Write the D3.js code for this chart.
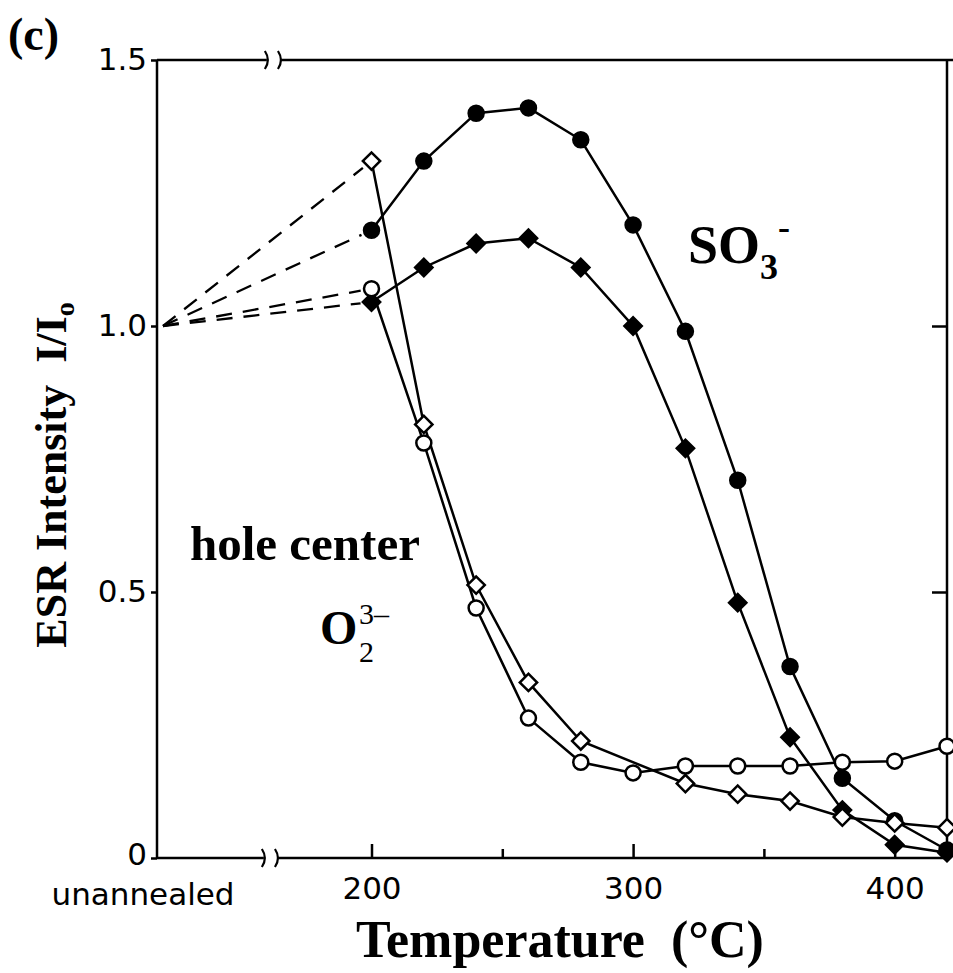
<!DOCTYPE html>
<html>
<head>
<meta charset="utf-8">
<script src="https://cdn.jsdelivr.net/npm/d3@7/dist/d3.min.js"></script>
<style>
  body { margin: 0; background: #fff; }
</style>
</head>
<body>
<svg class="chart"></svg>
<script>
// annealing temperatures (°C), "unannealed" sits at the left edge
const temps = [200, 220, 240, 260, 280, 300, 320, 340, 360, 380, 400, 420];
const so3Upper = [1.18, 1.31, 1.40, 1.41, 1.35, 1.19, 0.99, 0.71, 0.36, 0.15, 0.07, 0.015];
const so3Lower = [1.045, 1.11, 1.155, 1.165, 1.11, 1.0, 0.77, 0.48, 0.227, 0.09, 0.025, 0.01];
const holeCircle = [1.07, 0.78, 0.47, 0.263, 0.18, 0.16, 0.173, 0.173, 0.173, 0.18, 0.182, 0.21];
const holeDiamond = [1.31, 0.815, 0.513, 0.33, 0.22, null, 0.14, 0.12, 0.107, 0.077, 0.066, 0.057];
const unannealedValue = 1.0;
const yTicks = [0, 0.5, 1.0, 1.5];
const yRightTicks = [0.5, 1.0];
const xTicks = [200, 300, 400];
const xMinorTicks = [250, 350];

function esrChart(drawing, width = 953, height = 973) {
  let svg = d3.select("." + drawing);
  svg.attr("width", width).attr("height", height);
  svg.append("rect").attr("width", width).attr("height", height).attr("fill", "white");

  let left = 157, right = 947, top = 60, bottom = 858;
  let x = d3.scaleLinear().domain([118, 420]).range([left, right]);
  let y = d3.scaleLinear().domain([0, 1.5]).range([bottom, top]);
  let xUnannealed = x.domain()[0];
  let breakFrom = 160, breakTo = 165;

  let tickFont = "'DejaVu Sans', sans-serif";
  let serif = "'Liberation Serif', 'DejaVu Serif', serif";

  // frame with the axis breaks
  let frame = svg.append("g").attr("stroke", "black").attr("stroke-width", 2.5).attr("fill", "none");
  frame.append("line").attr("x1", left).attr("y1", top).attr("x2", left).attr("y2", bottom);
  frame.append("line").attr("x1", right).attr("y1", top).attr("x2", right).attr("y2", bottom);
  frame.append("line").attr("x1", left).attr("y1", top).attr("x2", x(breakFrom)).attr("y2", top);
  frame.append("line").attr("x1", x(breakTo)).attr("y1", top).attr("x2", width).attr("y2", top);
  frame.append("line").attr("x1", left).attr("y1", bottom).attr("x2", x(breakFrom) - 3).attr("y2", bottom);
  frame.append("line").attr("x1", x(breakTo) - 3).attr("y1", bottom).attr("x2", right).attr("y2", bottom);

  let drawBreak = function(xPos, yPos) {
    frame.append("path")
      .attr("d", "M" + (xPos - 2) + "," + (yPos - 9) + " Q" + (xPos + 4) + "," + yPos + " " + (xPos - 2) + "," + (yPos + 9))
      .attr("stroke-width", 2.2);
  }
  drawBreak(x(breakFrom), top);
  drawBreak(x(breakTo), top);
  drawBreak(x(breakFrom) - 3, bottom);
  drawBreak(x(breakTo) - 3, bottom);

  // axes
  let yAxis = svg.append("g")
    .attr("transform", "translate(" + left + ",0)")
    .call(d3.axisLeft(y).tickValues(yTicks).tickSize(6).tickPadding(4)
      .tickFormat(d => d === 0 ? "0" : d3.format(".1f")(d)));
  let yAxisRight = svg.append("g")
    .attr("transform", "translate(" + right + ",0)")
    .call(d3.axisRight(y).tickValues(yRightTicks).tickSize(-15).tickFormat(""));
  let xAxis = svg.append("g")
    .attr("transform", "translate(0," + bottom + ")")
    .call(d3.axisBottom(x).tickValues(xTicks).tickSize(-14).tickPadding(19).tickFormat(d3.format("d")));
  let xAxisMinor = svg.append("g")
    .attr("transform", "translate(0," + bottom + ")")
    .call(d3.axisBottom(x).tickValues(xMinorTicks).tickSize(-9).tickFormat(""));

  [yAxis, yAxisRight, xAxis, xAxisMinor].forEach(function(g) {
    g.select(".domain").remove();
    g.selectAll("line").attr("stroke", "black").attr("stroke-width", 2.5);
    g.selectAll("text").attr("font-family", tickFont).attr("font-size", 31).attr("fill", "black");
  });
  yAxis.selectAll(".tick").filter(d => d === 0).select("text").attr("dy", "0.2em");

  svg.append("text")
    .attr("x", x(xUnannealed) - 14).attr("y", bottom + 47)
    .attr("text-anchor", "middle")
    .attr("font-family", tickFont).attr("font-size", 31)
    .text("unannealed");

  // dashed lines from the unannealed value to the first annealed points
  [so3Upper, so3Lower, holeCircle, holeDiamond].forEach(function(values) {
    let x1 = x(xUnannealed) + 6, y1 = y(unannealedValue);
    let x2 = x(temps[0]), y2 = y(values[0]);
    let len = Math.hypot(x2 - x1, y2 - y1);
    svg.append("line")
      .attr("x1", x1).attr("y1", y1)
      .attr("x2", x2 - (x2 - x1) * 11 / len).attr("y2", y2 - (y2 - y1) * 11 / len)
      .attr("stroke", "black").attr("stroke-width", 2.3)
      .attr("stroke-dasharray", "16,11");
  });

  let line = d3.line()
    .defined(d => d[1] !== null)
    .x(d => x(d[0]))
    .y(d => y(d[1]));

  let series = [
    { values: so3Upper, shape: "circle", fill: "black" },
    { values: so3Lower, shape: "diamond", fill: "black" },
    { values: holeCircle, shape: "circle", fill: "white" },
    { values: holeDiamond, shape: "diamond", fill: "white" }
  ];

  series.forEach(function(s) {
    let pts = temps.map((t, i) => [t, s.values[i]]).filter(d => d[1] !== null);
    svg.append("path")
      .datum(pts)
      .attr("d", line)
      .attr("fill", "none")
      .attr("stroke", "black")
      .attr("stroke-width", 2.5);
  });

  series.forEach(function(s) {
    let pts = temps.map((t, i) => [t, s.values[i]]).filter(d => d[1] !== null);
    let marks = svg.append("g");
    if (s.shape === "circle") {
      marks.selectAll("circle").data(pts).enter().append("circle")
        .attr("cx", d => x(d[0])).attr("cy", d => y(d[1]))
        .attr("r", 7.5)
        .attr("fill", s.fill).attr("stroke", "black").attr("stroke-width", 2.5);
    } else {
      marks.selectAll("path").data(pts).enter().append("path")
        .attr("d", d3.symbol(d3.symbolSquare).size(150))
        .attr("transform", d => "translate(" + x(d[0]) + "," + y(d[1]) + ") rotate(45)")
        .attr("fill", s.fill).attr("stroke", "black").attr("stroke-width", 2.5);
    }
  });

  // labels
  svg.append("text")
    .attr("x", 8).attr("y", 50)
    .attr("font-family", serif).attr("font-weight", "bold").attr("font-size", 46)
    .text("(c)");

  let yTitle = svg.append("text")
    .attr("transform", "translate(66," + ((top + bottom) / 2 + 16) + ") rotate(-90)")
    .attr("text-anchor", "middle")
    .attr("font-family", serif).attr("font-weight", "bold").attr("font-size", 44);
  yTitle.append("tspan").text("ESR Intensity\u00a0\u00a0I/I");
  yTitle.append("tspan").attr("font-size", 28).attr("dy", 8).text("o");

  svg.append("text")
    .attr("x", 560).attr("y", 957)
    .attr("text-anchor", "middle")
    .attr("font-family", serif).attr("font-weight", "bold").attr("font-size", 52)
    .text("Temperature\u00a0\u00a0(°C)");

  let so3 = svg.append("text")
    .attr("x", 688).attr("y", 263)
    .attr("font-family", serif).attr("font-weight", "bold").attr("font-size", 54);
  so3.append("tspan").text("SO");
  so3.append("tspan").attr("font-size", 36).attr("dy", 16).text("3");
  so3.append("tspan").attr("font-size", 36).attr("dy", -40).text("-");

  svg.append("text")
    .attr("x", 190).attr("y", 560)
    .attr("font-family", serif).attr("font-weight", "bold").attr("font-size", 49)
    .text("hole center");

  svg.append("text")
    .attr("x", 320).attr("y", 644)
    .attr("font-family", serif).attr("font-weight", "bold").attr("font-size", 48)
    .text("O");
  svg.append("text")
    .attr("x", 359).attr("y", 662)
    .attr("font-family", serif).attr("font-size", 30)
    .text("2");
  svg.append("text")
    .attr("x", 359).attr("y", 624)
    .attr("font-family", serif).attr("font-size", 30)
    .text("3\u2013");
}

esrChart("chart");
</script>
</body>
</html>
